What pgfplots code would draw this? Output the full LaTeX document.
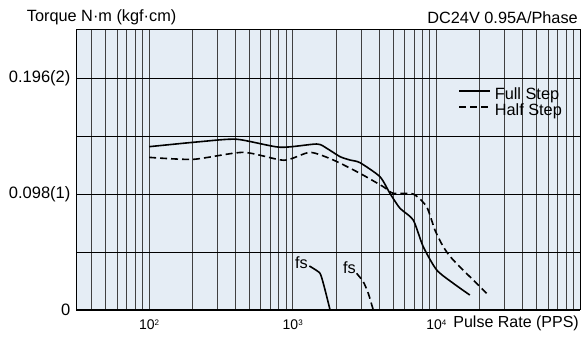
\documentclass[border=0pt]{standalone}
\usepackage{fontspec}
\setmainfont{Liberation Sans}
\usepackage{pgfplots}
\pgfplotsset{compat=1.18}
\definecolor{bg}{RGB}{229,237,245}
\newcommand{\expo}[1]{\raisebox{4.3pt}{\fontsize{8}{8}\selectfont #1}}
\begin{document}
\fontsize{16.3}{19}\selectfont
\begin{tikzpicture}
\begin{axis}[
  name=ax, at={(0,0)}, anchor=south west,
  xmode=log, scale only axis, width=504pt, height=280pt,
  xmin=31, xmax=100000, ymin=0, ymax=2.414,
  axis background/.style={fill=bg},
  axis line style={black, line width=1pt},
  xtick={100,1000,10000},
  xticklabels={{10\expo{2}},{10\expo{3}},{10\expo{4}}},
  minor xtick={40,50,60,70,80,90,200,300,400,500,600,700,800,900,2000,3000,4000,5000,6000,7000,8000,9000,20000,30000,40000,50000,60000,70000,80000,90000},
  ytick={0,1,2}, yticklabels={0,0.098(1),0.196(2)},
  minor ytick={0.5,1.5},
  xmajorgrids, xminorgrids, ymajorgrids, yminorgrids,
  major tick length=0pt, minor tick length=0pt,
  grid style={line width=0.9pt, black},
  every axis x grid/.append style={black!75},
  tick label style={font=\fontsize{16.5}{19}\selectfont},
  xticklabel style={font=\fontsize{14}{16}\selectfont, yshift=-4pt},
  legend style={draw=none, fill=none, at={(0.758,0.7946)}, anchor=north west,
    inner sep=0pt, column sep=3pt, row sep=0pt,
    nodes={inner sep=1pt, text height=10.5pt, text depth=3.5pt},
    font=\fontsize{16.3}{19}\selectfont},
  legend cell align=left,
  legend image code/.code={\draw[#1] (0pt,5pt) -- (31pt,5pt);},
]
\addplot[black, line width=1.6pt, smooth, tension=0.4] coordinates {
(100,1.408) (226,1.451) (408,1.472) (817,1.403) (1468,1.431) (1725,1.394)
(2135,1.322) (2506,1.293) (2940,1.270) (4050,1.149) (4750,1.006) (5580,0.877)
(6900,0.776) (8100,0.546) (10050,0.345) (13120,0.230) (17100,0.129)};
\addlegendentry{Full Step}
\addplot[black, line width=1.6pt, dash pattern=on 7pt off 4pt, smooth, tension=0.4] coordinates {
(100,1.316) (203,1.299) (453,1.359) (869,1.291) (1318,1.359) (1919,1.293)
(2940,1.178) (4270,1.063) (5010,1.006) (6900,1.0) (8550,0.891) (9770,0.690)
(11170,0.546) (13100,0.431) (22400,0.144)};
\addlegendentry{Half Step}
\addplot[black, line width=1.6pt, smooth, tension=0.4, forget plot] coordinates {
(1306,0.379) (1390,0.359) (1549,0.316) (1633,0.230) (1726,0.115) (1820,0)};
\addplot[black, line width=1.6pt, dash pattern=on 7pt off 4pt, smooth, tension=0.4, forget plot] coordinates {
(2786,0.316) (3097,0.244) (3357,0.144) (3637,0)};
\node[anchor=base east, inner sep=0pt] at (axis cs:1278,0.362) {fs};
\node[anchor=base east, inner sep=0pt] at (axis cs:2757,0.316) {fs};
\end{axis}
\node[anchor=base west, inner sep=0pt] at (-49.3pt,288pt) {Torque N·m (kgf·cm)};
\node[anchor=base east, inner sep=0pt] at (502pt,286pt) {DC24V 0.95A/Phase};
\node[anchor=base east, inner sep=0pt, font=\fontsize{16}{19}\selectfont] at (503pt,-18pt) {Pulse Rate (PPS)};
\pgfresetboundingbox
\path[use as bounding box] (-76pt,-27pt) rectangle (506pt,310pt);
\end{tikzpicture}
\end{document}
